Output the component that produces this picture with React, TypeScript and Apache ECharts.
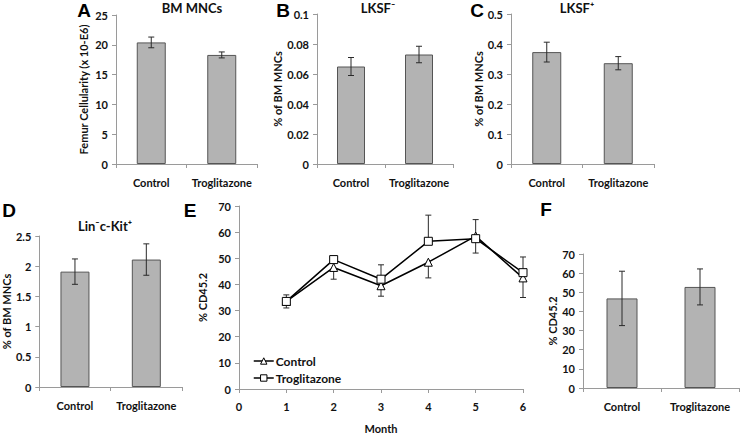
import React, { useEffect, useRef } from "react";
import * as echarts from "echarts";

const categories = ["Control", "Troglitazone"];

const bmMncValues = [20.4, 18.3];
const bmMncErrors = [0.9, 0.5];
const lksfNegValues = [0.065, 0.073];
const lksfNegErrors = [0.006, 0.0055];
const lksfPosValues = [0.373, 0.336];
const lksfPosErrors = [0.033, 0.022];
const linKitValues = [1.91, 2.11];
const linKitErrors = [0.21, 0.26];
const cd45Values = [46.8, 52.8];
const cd45Errors = [14.2, 9.4];

const months = [1, 2, 3, 4, 5, 6];
const controlCd45 = [33.5, 46.5, 39.5, 48.5, 58.5, 42.5];
const controlErrLow = [2.5, 4.5, 4, 6, 6.5, 7.5];
const trogCd45 = [33.5, 49.5, 42, 56.5, 57.5, 44.5];
const trogErrHigh = [2.5, 0, 5.5, 10, 7.3, 6];

const FONT = "Lato";
const AXIS_COLOR = "#9a9a9a";
const TEXT_COLOR = "#111";

type Panel = {
  title: string;
  letter: string;
  yName: string;
  values: number[];
  errors: number[];
  max: number;
  interval: number;
  grid: { left: number; top: number; width: number; height: number };
  barWidth: number;
  nameGap: number;
  titleX: number;
  titleY: number;
  letterX: number;
  letterY: number;
};

const barPanels: Panel[] = [
  {
    title: "BM MNCs", letter: "A", yName: "Femur Cellularity (x 10-E6)",
    values: bmMncValues, errors: bmMncErrors, max: 25, interval: 5,
    grid: { left: 116, top: 15, width: 141, height: 149 }, barWidth: 29, nameGap: 27,
    titleX: 192, titleY: 8, letterX: 84, letterY: 10,
  },
  {
    title: "LKSF\u207B", letter: "B", yName: "% of BM MNCs",
    values: lksfNegValues, errors: lksfNegErrors, max: 0.1, interval: 0.02,
    grid: { left: 317, top: 14, width: 136, height: 150 }, barWidth: 28, nameGap: 30,
    titleX: 378, titleY: 8, letterX: 283, letterY: 10,
  },
  {
    title: "LKSF\u207A", letter: "C", yName: "% of BM MNCs",
    values: lksfPosValues, errors: lksfPosErrors, max: 0.5, interval: 0.1,
    grid: { left: 511, top: 14, width: 143, height: 150 }, barWidth: 29, nameGap: 26,
    titleX: 577, titleY: 8, letterX: 477, letterY: 10,
  },
  {
    title: "Lin\u207Bc-Kit\u207A", letter: "D", yName: "% of BM MNCs",
    values: linKitValues, errors: linKitErrors, max: 2.5, interval: 0.5,
    grid: { left: 38, top: 236, width: 144, height: 151 }, barWidth: 29, nameGap: 25,
    titleX: 105, titleY: 226, letterX: 9, letterY: 210,
  },
  {
    title: "", letter: "F", yName: "% CD45.2",
    values: cd45Values, errors: cd45Errors, max: 70, interval: 10,
    grid: { left: 583, top: 254, width: 156, height: 134 }, barWidth: 31, nameGap: 25,
    titleX: 660, titleY: 226, letterX: 546, letterY: 209,
  },
];

const lineGrid = { left: 239, top: 206, width: 284, height: 183 };

function makeErrorRender(capHalf: number) {
  return (params: any, api: any) => {
    const x = api.value(0);
    const a = api.value(1);
    const b = api.value(2);
    const capA = api.value(3);
    const pa = api.coord([x, a]);
    const pb = api.coord([x, b]);
    const style = { stroke: "#2a2a2a", lineWidth: 1 };
    const children: any[] = [
      { type: "line", shape: { x1: pa[0], y1: pa[1], x2: pb[0], y2: pb[1] }, style },
      { type: "line", shape: { x1: pb[0] - capHalf, y1: pb[1], x2: pb[0] + capHalf, y2: pb[1] }, style },
    ];
    if (capA) {
      children.push({ type: "line", shape: { x1: pa[0] - capHalf, y1: pa[1], x2: pa[0] + capHalf, y2: pa[1] }, style });
    }
    return { type: "group", children };
  };
}

const labelStyle = { fontFamily: FONT, fontWeight: "bold" as const, fontSize: 11, color: TEXT_COLOR };

export default function App() {
  const ref = useRef<HTMLDivElement>(null);

  useEffect(() => {
    document.body.style.margin = "0";
    const chart = echarts.init(ref.current!, undefined, { renderer: "svg" });

    const grids: any[] = [];
    const xAxes: any[] = [];
    const yAxes: any[] = [];
    const series: any[] = [];
    const graphics: any[] = [];

    barPanels.forEach((p, i) => {
      grids.push({ ...p.grid, containLabel: false });
      xAxes.push({
        type: "category", gridIndex: i, data: categories,
        axisLine: { lineStyle: { color: AXIS_COLOR } },
        axisTick: { show: true, length: 4, lineStyle: { color: AXIS_COLOR } },
        axisLabel: { ...labelStyle, margin: 13, interval: 0, hideOverlap: false },
      });
      yAxes.push({
        type: "value", gridIndex: i, min: 0, max: p.max, interval: p.interval,
        name: p.yName, nameLocation: "middle", nameGap: p.nameGap,
        nameTextStyle: { ...labelStyle },
        axisLine: { show: true, lineStyle: { color: AXIS_COLOR } },
        axisTick: { show: true, length: 4, lineStyle: { color: AXIS_COLOR } },
        axisLabel: { ...labelStyle, margin: 8 },
        splitLine: { show: false },
      });
      series.push({
        type: "bar", xAxisIndex: i, yAxisIndex: i, data: p.values, barWidth: p.barWidth,
        itemStyle: { color: "#b3b3b3", borderColor: "#555", borderWidth: 1 },
        silent: true,
      });
      series.push({
        type: "custom", xAxisIndex: i, yAxisIndex: i, z: 5,
        renderItem: makeErrorRender(3),
        encode: { x: 0, y: [1, 2] },
        data: p.values.map((v, k) => [k, v - p.errors[k], v + p.errors[k], 1]),
        silent: true,
      });
      if (p.title) {
        graphics.push({
          type: "text", x: p.titleX, y: p.titleY,
          style: { text: p.title, fontFamily: FONT, fontWeight: "bold", fontSize: 13, fill: TEXT_COLOR, textAlign: "center", textVerticalAlign: "middle" },
        });
      }
      graphics.push({
        type: "text", x: p.letterX, y: p.letterY,
        style: { text: p.letter, fontFamily: "Liberation Sans", fontWeight: "bold", fontSize: 19, fill: "#000", textAlign: "center", textVerticalAlign: "middle" },
      });
    });

    const li = barPanels.length;
    grids.push({ ...lineGrid, containLabel: false });
    xAxes.push({
      type: "value", gridIndex: li, min: 0, max: 6, interval: 1,
      name: "Month", nameLocation: "middle", nameGap: 34,
      nameTextStyle: { ...labelStyle },
      axisLine: { lineStyle: { color: AXIS_COLOR } },
      axisTick: { show: true, length: 4, lineStyle: { color: AXIS_COLOR } },
      axisLabel: { ...labelStyle, margin: 12 },
      splitLine: { show: false },
    });
    yAxes.push({
      type: "value", gridIndex: li, min: 0, max: 70, interval: 10,
      name: "% CD45.2", nameLocation: "middle", nameGap: 31,
      nameTextStyle: { ...labelStyle },
      axisLine: { show: true, lineStyle: { color: AXIS_COLOR } },
      axisTick: { show: true, length: 4, lineStyle: { color: AXIS_COLOR } },
      axisLabel: { ...labelStyle, margin: 8 },
      splitLine: { show: false },
    });
    series.push({
      type: "custom", xAxisIndex: li, yAxisIndex: li, z: 1,
      renderItem: makeErrorRender(3), encode: { x: 0, y: [1, 2] },
      data: months.map((m, k) => [m, controlCd45[k], controlCd45[k] - controlErrLow[k], 0]),
      silent: true,
    });
    series.push({
      type: "custom", xAxisIndex: li, yAxisIndex: li, z: 1,
      renderItem: makeErrorRender(3), encode: { x: 0, y: [1, 2] },
      data: months
        .map((m, k) => [m, trogCd45[k], trogCd45[k] + trogErrHigh[k], 0])
        .filter((d, k) => trogErrHigh[k] > 0),
      silent: true,
    });
    series.push({
      type: "line", name: "Control", xAxisIndex: li, yAxisIndex: li, z: 3,
      data: months.map((m, k) => [m, controlCd45[k]]),
      symbol: "triangle", symbolSize: 8, showAllSymbol: true,
      lineStyle: { color: "#000", width: 1.5 },
      itemStyle: { color: "#fff", borderColor: "#000", borderWidth: 1 },
      silent: true,
    });
    series.push({
      type: "line", name: "Troglitazone", xAxisIndex: li, yAxisIndex: li, z: 4,
      data: months.map((m, k) => [m, trogCd45[k]]),
      symbol: "rect", symbolSize: 8, showAllSymbol: true,
      lineStyle: { color: "#000", width: 1.5 },
      itemStyle: { color: "#fff", borderColor: "#000", borderWidth: 1 },
      silent: true,
    });
    graphics.push({
      type: "text", x: 190, y: 210,
      style: { text: "E", fontFamily: "Liberation Sans", fontWeight: "bold", fontSize: 19, fill: "#000", textAlign: "center", textVerticalAlign: "middle" },
    });

    chart.setOption({
      animation: false,
      backgroundColor: "#fff",
      grid: grids,
      xAxis: xAxes,
      yAxis: yAxes,
      series,
      legend: {
        data: ["Control", "Troglitazone"],
        orient: "vertical", left: 248, top: 350,
        itemWidth: 20, itemHeight: 8, itemGap: 5,
        itemStyle: { color: "#fff", borderColor: "#000", borderWidth: 1 },
        lineStyle: { color: "#000", width: 1.5 },
        textStyle: { ...labelStyle, fontSize: 12, padding: [0, 0, 0, -3] },
        selectedMode: false,
      },
      graphic: graphics,
    });

    return () => chart.dispose();
  }, []);

  return <div ref={ref} style={{ position: "absolute", left: 0, top: 0, width: 741, height: 435 }} />;
}
